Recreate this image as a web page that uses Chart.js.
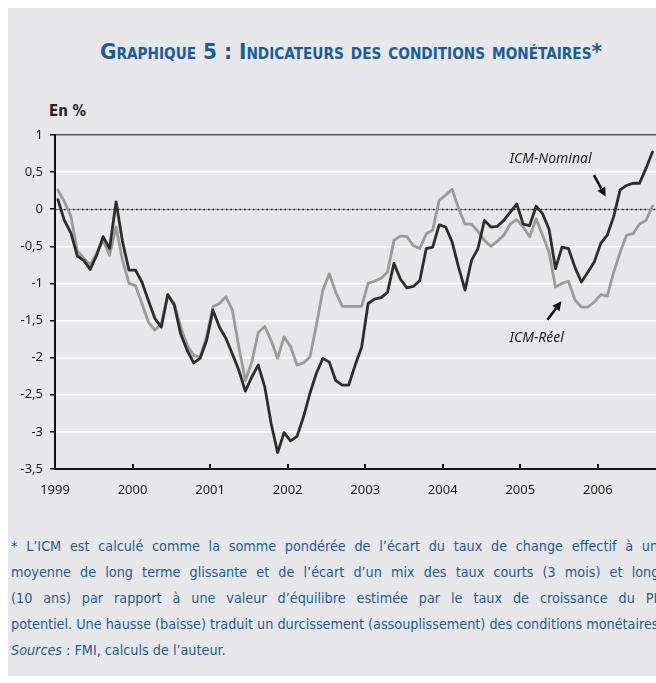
<!DOCTYPE html>
<html><head><meta charset="utf-8">
<script src="https://cdn.jsdelivr.net/npm/chart.js@4/dist/chart.umd.min.js"></script>
<style>
html,body{margin:0;padding:0;width:656px;height:683px;overflow:hidden;background:#fff;}
#panel{position:absolute;left:8px;top:8px;width:720px;height:668px;background:#e7e7e9;}
#title{position:absolute;left:100px;top:41px;white-space:nowrap;color:#1b5c9b;font-family:"DejaVu Sans Condensed","DejaVu Sans",sans-serif;font-stretch:condensed;font-weight:bold;font-size:22px;line-height:1;font-variant:small-caps;transform-origin:0 0;}
#unit{position:absolute;left:49px;top:104px;white-space:nowrap;font-family:"DejaVu Sans Condensed","DejaVu Sans",sans-serif;font-stretch:condensed;font-weight:bold;font-size:15px;line-height:1;color:#222;}
#note{position:absolute;left:11px;top:533px;width:655px;color:#1b5c9b;font-family:"DejaVu Sans Condensed","DejaVu Sans",sans-serif;font-stretch:condensed;font-size:13px;}
.ln{height:26px;line-height:26px;white-space:nowrap;}
.j{text-align:justify;text-align-last:justify;white-space:normal;overflow:hidden;}
#wrap{position:absolute;left:0;top:0;width:656px;height:683px;}
</style></head>
<body>
<div id="panel"></div>
<div id="title">Graphique 5 : Indicateurs des conditions monétaires*</div>
<div id="unit">En %</div>
<div id="note">
<div class="ln j">* L’ICM est calculé comme la somme pondérée de l’écart du taux de change effectif à une</div>
<div class="ln j">moyenne de long terme glissante et de l’écart d’un mix des taux courts (3 mois) et longs</div>
<div class="ln j">(10 ans) par rapport à une valeur d’équilibre estimée par le taux de croissance du PIB</div>
<div class="ln" id="l4">potentiel. Une hausse (baisse) traduit un durcissement (assouplissement) des conditions monétaires.</div>
<div class="ln"><i>Sources</i> : FMI, calculs de l’auteur.</div>
</div>
<div id="wrap"><canvas id="c"></canvas></div>
<script>
// Monthly data, January 1999 to September 2006
const startYear = 1999;
const yearTicks = [1999, 2000, 2001, 2002, 2003, 2004, 2005, 2006];
const icmNominal = [
  0.13, -0.15, -0.32, -0.63, -0.69, -0.81, -0.62, -0.37, -0.53, 0.10, -0.44, -0.82,
  -0.82, -0.98, -1.23, -1.47, -1.59, -1.15, -1.29, -1.68, -1.90, -2.07, -2.01, -1.77,
  -1.36, -1.59, -1.74, -1.95, -2.17, -2.45, -2.26, -2.10, -2.39, -2.89, -3.28, -3.01,
  -3.12, -3.06, -2.80, -2.48, -2.21, -2.01, -2.06, -2.31, -2.37, -2.37, -2.10, -1.86,
  -1.27, -1.21, -1.19, -1.12, -0.73, -0.94, -1.06, -1.04, -0.96, -0.53, -0.51, -0.21,
  -0.24, -0.44, -0.78, -1.09, -0.69, -0.53, -0.15, -0.24, -0.23, -0.15, -0.04, 0.07,
  -0.20, -0.22, 0.04, -0.06, -0.27, -0.80, -0.51, -0.53, -0.78, -0.98, -0.85, -0.71,
  -0.46, -0.35, -0.10, 0.26, 0.32, 0.35, 0.35, 0.55, 0.77
];
const icmReel = [
  0.26, 0.10, -0.09, -0.56, -0.66, -0.75, -0.59, -0.42, -0.62, -0.24, -0.69, -1.00,
  -1.03, -1.27, -1.52, -1.63, -1.54, -1.16, -1.27, -1.59, -1.83, -1.97, -1.99, -1.72,
  -1.31, -1.27, -1.18, -1.36, -1.86, -2.31, -2.06, -1.66, -1.58, -1.77, -2.01, -1.72,
  -1.85, -2.10, -2.07, -1.99, -1.56, -1.09, -0.87, -1.12, -1.31, -1.31, -1.31, -1.31,
  -1.00, -0.97, -0.93, -0.85, -0.42, -0.36, -0.37, -0.49, -0.53, -0.33, -0.28, 0.12,
  0.19, 0.27, 0.01, -0.20, -0.20, -0.30, -0.42, -0.50, -0.43, -0.35, -0.20, -0.14,
  -0.24, -0.37, -0.13, -0.35, -0.58, -1.05, -1.00, -0.97, -1.22, -1.32, -1.32, -1.25,
  -1.15, -1.17, -0.85, -0.58, -0.35, -0.33, -0.20, -0.15, 0.04
];
const seriesNames = ['ICM-Nominal', 'ICM-Réel'];

const toPoints = arr => arr.map((v, i) => ({x: startYear + (i + 0.45) / 12, y: v}));

const annotations = [
  {text: 'ICM-Nominal', tx: 2004.86, ty: 0.68, from: [2005.95, 0.46], to: [2006.10, 0.17]},
  {text: 'ICM-Réel', tx: 2004.86, ty: -1.74, from: [2005.35, -1.49], to: [2005.53, -1.24]}
];

const overlay = {
  id: 'overlay',
  beforeDatasetsDraw(chart) {
    const {ctx, chartArea: a, scales: {y}} = chart;
    const y0 = Math.round(y.getPixelForValue(0)) + 0.5;
    ctx.save();
    ctx.strokeStyle = '#8e8e8e'; ctx.lineWidth = 1;
    ctx.beginPath(); ctx.moveTo(a.left, y0); ctx.lineTo(a.right, y0); ctx.stroke();
    ctx.setLineDash([1.5, 3]); ctx.strokeStyle = '#222'; ctx.lineWidth = 1.3;
    ctx.beginPath(); ctx.moveTo(a.left, y0); ctx.lineTo(a.right, y0); ctx.stroke();
    ctx.restore();
  },
  afterDraw(chart) {
    const {ctx, chartArea: a, scales: {x, y}} = chart;
    ctx.save();
    ctx.strokeStyle = '#111'; ctx.lineWidth = 2;
    x.ticks.forEach(t => {
      if (t.value === startYear) return;
      const px = Math.round(x.getPixelForValue(t.value));
      ctx.beginPath(); ctx.moveTo(px, a.bottom); ctx.lineTo(px, a.bottom - 5); ctx.stroke();
    });
    ctx.fillStyle = '#1e1e1e';
    ctx.font = 'italic 14px "Noto Sans", "Open Sans", sans-serif';
    ctx.textBaseline = 'middle';
    annotations.forEach(an => {
      ctx.fillText(an.text, x.getPixelForValue(an.tx), y.getPixelForValue(an.ty));
      const x1 = x.getPixelForValue(an.from[0]), y1 = y.getPixelForValue(an.from[1]);
      const x2 = x.getPixelForValue(an.to[0]), y2 = y.getPixelForValue(an.to[1]);
      const ang = Math.atan2(y2 - y1, x2 - x1);
      const hl = 9, hw = 4.5;
      const bx = x2 - hl * Math.cos(ang), by = y2 - hl * Math.sin(ang);
      ctx.strokeStyle = '#111'; ctx.lineWidth = 2.6;
      ctx.beginPath(); ctx.moveTo(x1, y1); ctx.lineTo(bx, by); ctx.stroke();
      ctx.fillStyle = '#111';
      ctx.beginPath();
      ctx.moveTo(x2, y2);
      ctx.lineTo(bx + hw * Math.sin(ang), by - hw * Math.cos(ang));
      ctx.lineTo(bx - hw * Math.sin(ang), by + hw * Math.cos(ang));
      ctx.closePath(); ctx.fill();
      ctx.fillStyle = '#1e1e1e';
    });
    ctx.restore();
  }
};

new Chart(document.getElementById('c'), {
  type: 'line',
  data: {
    datasets: [
      {label: seriesNames[0], data: toPoints(icmNominal), borderColor: '#2d2d2d', borderWidth: 2.8,
       pointRadius: 0, tension: 0, borderJoinStyle: 'round', borderCapStyle: 'round'},
      {label: seriesNames[1], data: toPoints(icmReel), borderColor: '#9b9b9b', borderWidth: 2.8,
       pointRadius: 0, tension: 0, borderJoinStyle: 'round', borderCapStyle: 'round'}
    ]
  },
  options: {
    responsive: true, maintainAspectRatio: false, animation: false,
    layout: {padding: {left: 0, top: 135, right: 0, bottom: 184}},
    plugins: {legend: {display: false}, tooltip: {enabled: false}},
    scales: {
      x: {
        type: 'linear', min: 1999, max: 2006.75,
        afterFit: s => { s.height = 30; },
        afterBuildTicks: s => { s.ticks = yearTicks.map(v => ({value: v})); },
        ticks: {stepSize: 1, includeBounds: false, padding: 5, color: '#1e1e1e',
                font: {family: '"Noto Sans", "Open Sans", sans-serif', size: 13},
                callback: v => String(v), maxRotation: 0, autoSkip: false},
        grid: {display: false},
        border: {display: true, color: '#111', width: 2}
      },
      y: {
        min: -3.5, max: 1,
        afterFit: s => { s.width = 55; },
        ticks: {stepSize: 0.5, padding: 7, color: '#1e1e1e',
                font: {family: '"Noto Sans", "Open Sans", sans-serif', size: 13},
                callback: v => String(v).replace('.', ',')},
        grid: {
          color: c => (c.tick.value === 1 ? '#5a5a5a' : (c.tick.value === 0 || c.tick.value === -3.5) ? 'rgba(0,0,0,0)' : '#ffffff'),
          lineWidth: 1.5, tickLength: 5, tickColor: '#111', tickWidth: 1.5
        },
        border: {display: true, color: '#111', width: 2}
      }
    }
  },
  plugins: [overlay]
});

// fit title width and footnote font to reference extents
const t = document.getElementById('title');
t.style.transform = 'scaleX(' + (502 / t.getBoundingClientRect().width) + ')';
const l4 = document.getElementById('l4');
const sp = document.createElement('span'); sp.textContent = l4.textContent; l4.textContent = ''; l4.appendChild(sp);
const w4 = sp.getBoundingClientRect().width;
document.getElementById('note').style.fontSize = (13 * 652 / w4) + 'px';
</script>
</body></html>
